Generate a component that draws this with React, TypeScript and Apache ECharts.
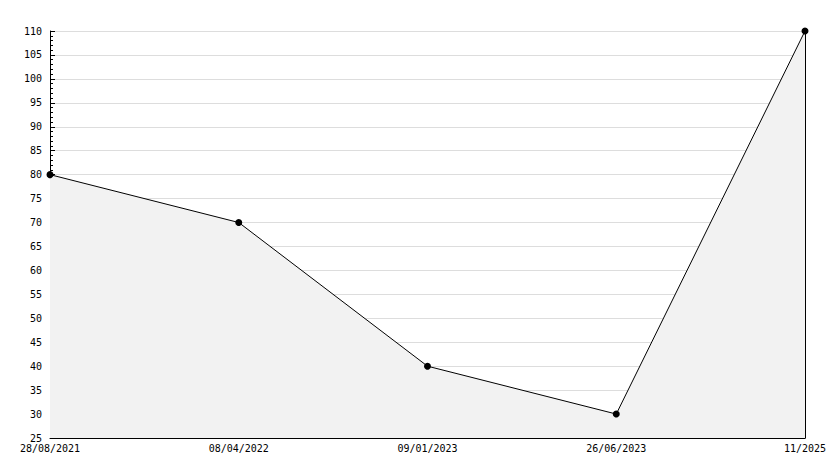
import React, { useEffect, useRef } from "react";
import * as echarts from "echarts";

const categories = ["28/08/2021", "08/04/2022", "09/01/2023", "26/06/2023", "11/2025"];
const values = [80, 70, 40, 30, 110];
const yMin = 25;
const yMax = 110;
const yStep = 5;

export default function App() {
  const ref = useRef<HTMLDivElement>(null);
  useEffect(() => {
    const chart = echarts.init(ref.current!, null, { renderer: "svg" });
    const font = "DejaVu Sans Mono";
    chart.setOption({
      animation: false,
      backgroundColor: "#ffffff",
      grid: { left: 50, right: 29, top: 31, bottom: 30, containLabel: false },
      xAxis: {
        type: "category",
        data: categories,
        boundaryGap: false,
        axisLine: { show: true, lineStyle: { color: "#000", width: 1 } },
        axisTick: { show: true, inside: true, length: 5, alignWithLabel: true, lineStyle: { color: "#000" } },
        axisLabel: { color: "#000", fontFamily: font, fontSize: 10, margin: 5, showMinLabel: true, showMaxLabel: true },
        splitLine: { show: false },
      },
      yAxis: [
        {
          type: "value",
          min: yMin,
          max: yMax,
          interval: yStep,
          axisLine: { show: true, lineStyle: { color: "#000", width: 1 } },
          axisTick: { show: true, inside: true, length: 5, lineStyle: { color: "#000" } },
          minorTick: { show: true, splitNumber: 5, length: 3, lineStyle: { color: "#000" } },
          axisLabel: { color: "#000", fontFamily: font, fontSize: 10, margin: 8 },
          splitLine: { show: true, lineStyle: { color: "#dddddd", width: 1 } },
        },
        {
          type: "value",
          position: "right",
          min: yMin,
          max: yMax,
          interval: yStep,
          axisLine: { show: true, lineStyle: { color: "#000", width: 1 } },
          axisTick: { show: false },
          axisLabel: { show: false },
          splitLine: { show: false },
        },
      ],
      series: [
        {
          type: "line",
          data: values,
          yAxisIndex: 0,
          symbol: "circle",
          symbolSize: 7,
          itemStyle: { color: "#000" },
          lineStyle: { color: "#000", width: 1 },
          areaStyle: { color: "#f2f2f2", opacity: 1, origin: "start" },
        },
      ],
    });
    return () => chart.dispose();
  }, []);
  return <div ref={ref} style={{ width: 834, height: 468, position: "absolute", left: 0, top: 0 }} />;
}
